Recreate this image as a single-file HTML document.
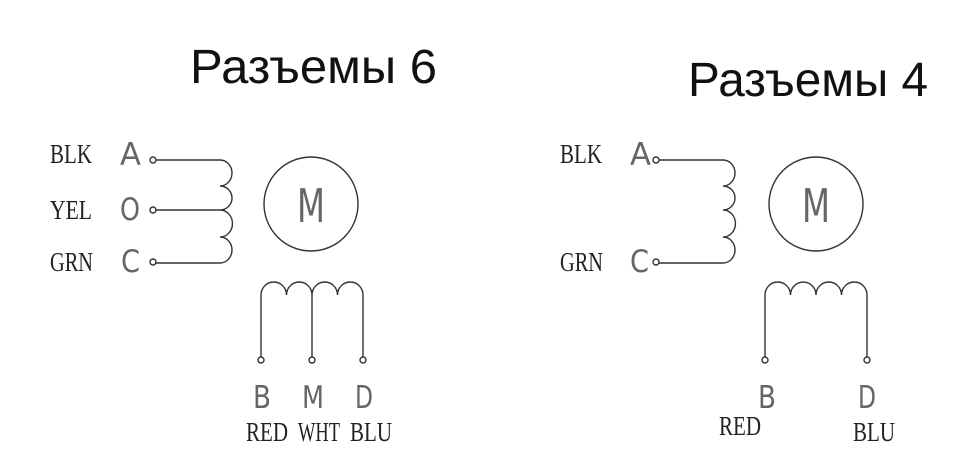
<!DOCTYPE html>
<html><head><meta charset="utf-8"><style>body{margin:0;background:#fff}svg{display:block}</style></head>
<body>
<svg width="970" height="471" viewBox="0 0 970 471" xmlns="http://www.w3.org/2000/svg">
<g font-family="Liberation Sans, sans-serif" fill="#111">
<text x="190" y="83" font-size="48" textLength="247" lengthAdjust="spacingAndGlyphs">Разъемы 6</text>
<text x="688" y="96" font-size="48" textLength="240" lengthAdjust="spacingAndGlyphs">Разъемы 4</text>
</g>
<g font-family="Liberation Serif, serif" font-size="27" fill="#222">
<text x="50" y="163" textLength="42" lengthAdjust="spacingAndGlyphs">BLK</text>
<text x="50" y="219" textLength="42" lengthAdjust="spacingAndGlyphs">YEL</text>
<text x="50" y="271" textLength="43" lengthAdjust="spacingAndGlyphs">GRN</text>
<text x="246" y="441" textLength="42" lengthAdjust="spacingAndGlyphs">RED</text>
<text x="298" y="441" textLength="42" lengthAdjust="spacingAndGlyphs">WHT</text>
<text x="350" y="441" textLength="42" lengthAdjust="spacingAndGlyphs">BLU</text>
<text x="560" y="163" textLength="42" lengthAdjust="spacingAndGlyphs">BLK</text>
<text x="560" y="271" textLength="43" lengthAdjust="spacingAndGlyphs">GRN</text>
<text x="719" y="435" textLength="42" lengthAdjust="spacingAndGlyphs">RED</text>
<text x="853" y="441" textLength="42" lengthAdjust="spacingAndGlyphs">BLU</text>
</g>
<g font-family="DejaVu Sans, sans-serif" font-size="31" fill="#666">
<text x="120" y="165" textLength="21" lengthAdjust="spacingAndGlyphs">A</text>
<text x="120" y="220" textLength="20" lengthAdjust="spacingAndGlyphs">O</text>
<text x="121" y="272" textLength="19" lengthAdjust="spacingAndGlyphs">C</text>
<text x="630" y="165" textLength="21" lengthAdjust="spacingAndGlyphs">A</text>
<text x="630" y="272" textLength="19" lengthAdjust="spacingAndGlyphs">C</text>
<text x="297" y="222" font-size="46" textLength="28" lengthAdjust="spacingAndGlyphs">M</text>
<text x="802" y="222" font-size="46" textLength="28" lengthAdjust="spacingAndGlyphs">M</text>
<text x="253" y="408" textLength="18" lengthAdjust="spacingAndGlyphs">B</text>
<text x="302" y="408" textLength="22" lengthAdjust="spacingAndGlyphs">M</text>
<text x="355" y="408" textLength="18" lengthAdjust="spacingAndGlyphs">D</text>
<text x="758" y="408" textLength="18" lengthAdjust="spacingAndGlyphs">B</text>
<text x="858" y="408" textLength="18" lengthAdjust="spacingAndGlyphs">D</text>
</g>
<g fill="none" stroke="#333" stroke-width="1.4">
<circle cx="153" cy="160" r="3"/><circle cx="153" cy="210" r="3"/><circle cx="153" cy="262" r="3"/>
<path d="M156 160H220A12 13 0 0 1 220 186A12 12 0 0 1 220 210A12 13 0 0 1 220 237A12 13 0 0 1 220 263H156"/>
<path d="M156 210H220"/>
<circle cx="311" cy="204" r="47"/>
<path d="M261 357V295A12.75 13 0 0 1 286.5 295A12.75 13 0 0 1 312 295A12.75 13 0 0 1 337.5 295A12.75 13 0 0 1 363 295V357"/>
<path d="M312 295V357"/>
<circle cx="261" cy="360" r="3"/><circle cx="312" cy="360" r="3"/><circle cx="363" cy="360" r="3"/>
<circle cx="656" cy="160" r="3"/><circle cx="656" cy="262" r="3"/>
<path d="M659 160H723A12 13 0 0 1 723 186A12 12 0 0 1 723 210A12 13 0 0 1 723 237A12 13 0 0 1 723 263H659"/>
<circle cx="816" cy="204" r="47"/>
<path d="M765 357V295A12.75 13 0 0 1 790.5 295A12.75 13 0 0 1 816 295A12.75 13 0 0 1 841.5 295A12.75 13 0 0 1 867 295V357"/>
<circle cx="765" cy="360" r="3"/><circle cx="867" cy="360" r="3"/>
</g>
</svg>
</body></html>
